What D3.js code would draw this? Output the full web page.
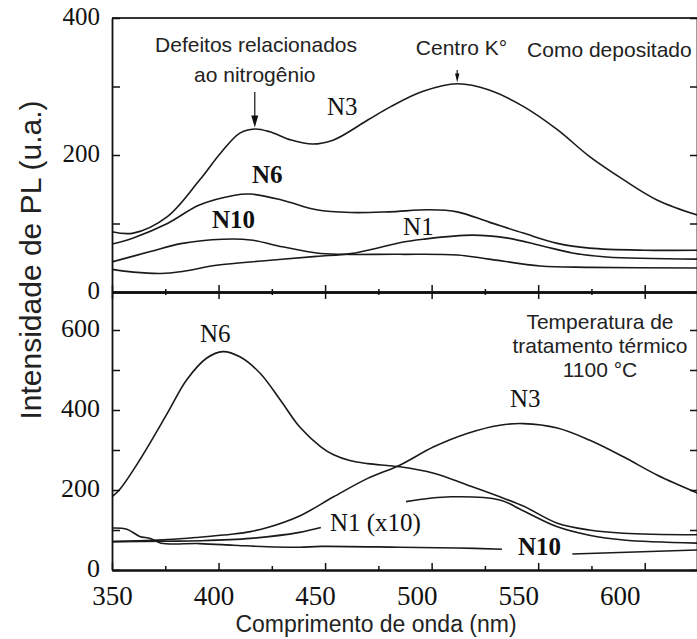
<!DOCTYPE html>
<html><head><meta charset="utf-8">
<script src="https://cdn.jsdelivr.net/npm/d3@7"></script>
<style>
body{margin:0;background:#fff;}
svg{display:block;}
.serif{font-family:"Liberation Serif","Times New Roman",serif;fill:#111;}
.sans{font-family:"Liberation Sans",Arial,sans-serif;fill:#222;}
</style></head>
<body>
<svg id="chart" width="697" height="639"></svg>
<script>
// ---------- data ----------
const xMajorTicks = [350, 400, 450, 500, 550, 600];
const xMinorTicks = [375, 425, 475, 525, 575, 625];
const topYTicks = [0, 100, 200, 300, 400];
const topYLabels = [0, 200, 400];
const botYTicks = [0, 100, 200, 300, 400, 500, 600];
const botYLabels = [0, 200, 400, 600];

// "Como depositado" (top panel): [wavelength nm, intensity]
const topN3 = [[350,88],[360,86],[376,110],[391,163],[401,203],[410,232],[417,238],[424,234],[434,222],[444,216],[454,222],[470,251],[481,271],[496,293],[512,304],[527,295],[543,271],[559,237],[574,198],[590,164],[606,134],[625,112]];
const topN6 = [[350,70],[360,79],[376,100],[391,127],[407,141],[415,143],[430,134],[446,120],[462,116],[480,117],[499,120],[512,117],[527,102],[543,86],[559,71],[574,64],[600,61],[625,61]];
const topN10 = [[350,44],[368,59],[383,71],[402,77],[415,76],[430,66],[446,57],[457,55],[485,55],[512,54],[527,48],[551,38],[574,36],[625,35]];
const topN1 = [[350,33],[360,29],[373,27],[383,30],[399,39],[423,46],[446,52],[462,56],[477,66],[485,72],[496,77],[519,83],[535,79],[551,68],[566,57],[582,51],[625,48]];

// 1100 °C (bottom panel); null = gap left for a label
const botN6 = [[350,183],[354,204],[363,275],[376,392],[385,475],[394.5,530],[402,546],[410,533],[419.5,492],[429,425],[438,358],[448,308],[454,288],[462,273],[470,266],[485,258],[501,242],[517,212],[532,183],[543,160],[559,117],[574,100],[590,92],[625,88]];
const botN3 = [[350,71],[376,76],[391,82],[407,90],[415,96],[423,106],[438,135],[454,183],[470,229],[485,262],[501,308],[517,342],[532,362],[543,366],[559,355],[574,325],[590,283],[606,237],[625,192]];
const botN1x10 = [[350,71],[376,72],[391,73],[415,79],[438,94],[448,106],[468,null],[488,171],[509,183],[532,175],[543,148],[559,108],[574,87],[590,75],[625,67]];
const botN10 = [[350,105],[357,102],[363,84],[368,79],[373,67],[391,66],[407,62],[423,58],[438,57],[448,59],[485,57],[512,55],[533,52],[550,null],[566,40],[625,50]];

// text labels: [text, nm, value, anchor, bold]
const topLabels = [["N3",450.9,258,"start",false],["N6",415.7,159,"start",true],["N10",396.9,93,"start",true],["N1",486.6,83,"start",false]];
const botLabels = [["N6",391.3,570,"start",false],["N3",536.8,407,"start",false],["N1 (x10)",452.3,97,"start",false],["N10",540.5,37,"start",true]];
const topNotes = [["Defeitos relacionados",417.6,350,"middle"],["ao nitrogênio",417,307,"middle"],["Centro K°",514,346,"middle"],["Como depositado",544.8,343,"start"]];
const botNotes = [["Temperatura de",579,602,"middle"],["tratamento térmico",579,542,"middle"],["1100 °C",579,482,"middle"]];
// arrows: [nm, from value, to value]
const topArrows = [[417,292,240],[512,324,306]];

// ---------- drawing ----------
const SERIF = "Liberation Serif, Times New Roman, serif";
const svg = d3.select("#chart");
const x = d3.scaleLinear([350, 625], [112, 698]);
const yTop = d3.scaleLinear([0, 400], [292, 18]);
const yBot = d3.scaleLinear([0, 695], [570, 292]);

svg.append("defs").append("clipPath").attr("id","clip")
  .append("rect").attr("x",112).attr("y",18).attr("width",586).attr("height",552);

const gPlot = svg.append("g").attr("clip-path","url(#clip)");
function drawLine(data, y){
  const line = d3.line().defined(d=>d[1]!=null).x(d=>x(d[0])).y(d=>y(d[1])).curve(d3.curveCatmullRom.alpha(0.5));
  gPlot.append("path").attr("d", line(data)).attr("fill","none").attr("stroke","#1a1a1a").attr("stroke-width",1.6);
}
[topN3, topN6, topN10, topN1].forEach(s=>drawLine(s, yTop));
[botN6, botN3, botN1x10, botN10].forEach(s=>drawLine(s, yBot));

function styleAxis(g){
  g.attr("font-family", SERIF);
  g.selectAll("path.domain").attr("stroke","#111").attr("stroke-width",1.8);
  g.selectAll(".tick line").attr("stroke","#111").attr("stroke-width",1.5);
}
// frame: top border
svg.append("line").attr("x1",112).attr("x2",698).attr("y1",yTop(400)).attr("y2",yTop(400)).attr("stroke","#333").attr("stroke-width",1.8);

// middle shared axis (crossing ticks)
[[d3.axisTop, 7, xMajorTicks],[d3.axisBottom, 7, xMajorTicks],[d3.axisTop, 3, xMinorTicks],[d3.axisBottom, 3, xMinorTicks]].forEach(([ax,s,t])=>{
  const g = svg.append("g").attr("transform",`translate(0,${yTop(0)})`)
    .call(ax(x).tickValues(t).tickSizeInner(s).tickSizeOuter(0).tickFormat(""));
  styleAxis(g);
});
// bottom axis, ticks pointing inward
[[7, xMajorTicks],[4, xMinorTicks]].forEach(([s,t])=>{
  const g = svg.append("g").attr("transform",`translate(0,${yBot(0)})`)
    .call(d3.axisTop(x).tickValues(t).tickSizeInner(s).tickSizeOuter(0).tickFormat(""));
  styleAxis(g);
});
// bottom labels
const gxl = svg.append("g").attr("transform",`translate(0,${yBot(0)})`)
  .call(d3.axisBottom(x).tickValues(xMajorTicks).tickSize(0));
gxl.attr("font-family", SERIF).attr("font-size", 27);
gxl.select("path.domain").remove();
gxl.selectAll("text").attr("font-family", SERIF).attr("font-size",27).attr("y",35).attr("dy",0)
  .attr("dx", d=>-(d-350)*0.1).attr("fill","#111");

// left axes
function leftAxis(y, ticks, labels, size){
  const g = svg.append("g").attr("transform","translate(112,0)")
    .call(d3.axisLeft(y).tickValues(ticks).tickSizeInner(-8).tickSizeOuter(0).tickPadding(12)
      .tickFormat(d=>labels.includes(d)?d:""));
  styleAxis(g);
  g.attr("font-size", size);
  g.selectAll("text").attr("font-family", SERIF).attr("font-size",size).attr("fill","#111").attr("dy","0.25em");
  return g;
}
leftAxis(yTop, topYTicks, topYLabels, 25);
leftAxis(yBot, botYTicks, botYLabels, 26);
// right axes
function rightAxis(y, ticks){
  const g = svg.append("g").attr("transform","translate(697,0)")
    .call(d3.axisRight(y).tickValues(ticks).tickSizeInner(-7).tickSizeOuter(0).tickFormat(""));
  styleAxis(g);
}
rightAxis(yTop, topYTicks);
rightAxis(yBot, botYTicks);

// curve labels
topLabels.forEach(([t,nm,v,a,b])=>svg.append("text").attr("class","serif").attr("x",x(nm)).attr("y",yTop(v))
  .attr("text-anchor",a).attr("font-size",25).attr("font-weight",b?"bold":"normal").text(t));
botLabels.forEach(([t,nm,v,a,b])=>svg.append("text").attr("class","serif").attr("x",x(nm)).attr("y",yBot(v))
  .attr("text-anchor",a).attr("font-size",25).attr("font-weight",b?"bold":"normal").text(t));
topNotes.forEach(([t,nm,v,a])=>svg.append("text").attr("class","sans").attr("x",x(nm)).attr("y",yTop(v))
  .attr("text-anchor",a).attr("font-size",21).text(t));
botNotes.forEach(([t,nm,v,a])=>svg.append("text").attr("class","sans").attr("x",x(nm)).attr("y",yBot(v))
  .attr("text-anchor",a).attr("font-size",21).text(t));

// arrows
topArrows.forEach(([nm,v0,v1],i)=>{
  const xx = x(nm), y0 = yTop(v0), y1 = yTop(v1);
  const hl = i===0 ? 12 : 9, hw = i===0 ? 3.5 : 2.2;
  svg.append("line").attr("x1",xx).attr("x2",xx).attr("y1",y0).attr("y2",y1-hl+2).attr("stroke","#222").attr("stroke-width",1.3);
  svg.append("path").attr("d",`M${xx-hw},${y1-hl} L${xx+hw},${y1-hl} L${xx},${y1} Z`).attr("fill","#111");
});

// axis titles
svg.append("text").attr("class","sans").attr("transform","translate(41,260) rotate(-90)")
  .attr("text-anchor","middle").attr("font-size",30).text("Intensidade de PL (u.a.)");
svg.append("text").attr("class","sans").attr("x",376).attr("y",632)
  .attr("text-anchor","middle").attr("font-size",23).text("Comprimento de onda (nm)");
</script>
</body></html>
